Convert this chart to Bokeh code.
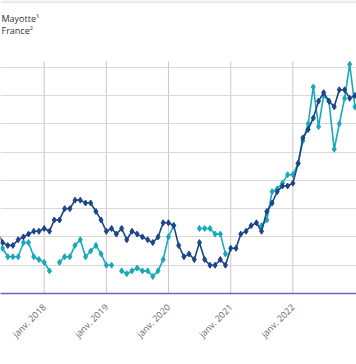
import math
from datetime import date
from bokeh.plotting import figure
from bokeh.models import Range1d, FixedTicker, Grid, Label, BoxAnnotation
from bokeh.embed import file_html
from bokeh.resources import INLINE

# ---- data (monthly year-on-year change, %) ----
france_start = (2017, 1)
france = [1.3, 1.2, 1.1, 1.2, 0.8, 0.7, 0.7, 0.9, 1.0, 1.1, 1.2, 1.2,
          1.3, 1.2, 1.6, 1.6, 2.0, 2.0, 2.3, 2.3, 2.2, 2.2, 1.9, 1.6,
          1.2, 1.3, 1.1, 1.3, 0.9, 1.2, 1.1, 1.0, 0.9, 0.8, 1.0, 1.5,
          1.5, 1.4, 0.7, 0.3, 0.4, 0.2, 0.8, 0.2, 0.0, 0.0, 0.2, 0.0,
          0.6, 0.6, 1.1, 1.2, 1.4, 1.5, 1.2, 1.9, 2.2, 2.6, 2.8, 2.8,
          2.9, 3.6, 4.5, 4.8, 5.2, 5.8, 6.1, 5.8, 5.6, 6.2, 6.2, 5.9,
          6.0]
mayotte_start = (2017, 5)
nan = float("nan")
mayotte = [0.6, 0.3, 0.3, 0.3, 0.8, 0.8, 0.3, 0.2,
           0.1, -0.2, nan, 0.1, 0.3, 0.3, 0.7, 0.9, 0.3, 0.5, 0.7, 0.4,
           0.0, 0.0, nan, -0.2, -0.3, -0.2, -0.1, -0.2, -0.2, -0.4, -0.2, 0.2,
           1.0, 1.4, nan, nan, nan, nan, 1.3, 1.3, 1.3, 1.1, 1.1, 0.4,
           nan, nan, nan, nan, nan, nan, 1.4, 1.6, 2.6, 2.7, 2.9, 3.2,
           3.2, 3.6, 4.4, 5.0, 6.3, 4.9, 6.0, 5.8, 4.1, 5.0, 5.9, 7.1,
           5.6]
tick_years = [2018, 2019, 2020, 2021, 2022]
tick_labels = ["janv. 2018", "janv. 2019", "janv. 2020", "janv. 2021", "janv. 2022"]
y_ticks = [0, 1, 2, 3, 4, 5, 6, 7]
legend_labels = ["Mayotte\u00b9", "France\u00b2"]

DAY = 86400000.0
def ms(y, m):
    return (date(y, m, 1) - date(1970, 1, 1)).days * DAY

def months(start, n):
    y, m = start
    out = []
    for _ in range(n):
        out.append(ms(y, m))
        m += 1
        if m > 12:
            m, y = 1, y + 1
    return out

fx = months(france_start, len(france))
mx = months(mayotte_start, len(mayotte))
x_ticks = [ms(y, 1) for y in tick_years]

# pixel -> data mapping of the visible window
ref0 = ms(2018, 1)
def px_to_ms(px):
    return ref0 + (px - 43.7) / 0.1702 * DAY

def px_to_val(py):
    return (264.8 - py) / 28.3

DARK = "#1b4586"
TEAL = "#17a9bb"
Y_MIN = -1
PLOT_TOP = px_to_val(61)

p = figure(width=356, height=364, output_backend="svg", toolbar_location=None,
           x_range=Range1d(px_to_ms(0), px_to_ms(356)),
           y_range=Range1d(Y_MIN, px_to_val(0)), y_axis_location=None,
           min_border_left=0, min_border_right=0, min_border_top=0,
           min_border_bottom=71)
p.outline_line_color = None
p.grid.visible = False
p.background_fill_color = "white"
p.border_fill_color = "white"

# thin light band at the very top of the container
p.add_layout(BoxAnnotation(bottom=px_to_val(2.7), fill_color="#ebebeb", fill_alpha=1,
                           line_color=None))

# horizontal grid
p.add_layout(Grid(dimension=1, ticker=FixedTicker(ticks=y_ticks),
                  grid_line_color="#d9d9d9", grid_line_width=1))
# vertical grid lines, limited to the plot area
p.segment(x0=x_ticks, x1=x_ticks, y0=[Y_MIN] * len(x_ticks), y1=[PLOT_TOP] * len(x_ticks),
          line_color="#c6c6c6", line_width=1, level="underlay")

ax = p.xaxis[0]
ax.ticker = FixedTicker(ticks=x_ticks)
ax.major_label_overrides = {int(t): lab for t, lab in zip(x_ticks, tick_labels)}
ax.major_label_orientation = math.pi / 4
ax.major_label_text_font = "Open Sans"
ax.major_label_text_font_size = "9px"
ax.major_label_text_color = "#666666"
ax.major_tick_line_color = None
ax.minor_tick_line_color = None
ax.axis_line_color = "#6b62c4"
ax.axis_line_width = 1.5
ax.major_label_standoff = 6

p.line(mx, mayotte, line_color=TEAL, line_width=1.6)
p.scatter(mx, mayotte, marker="diamond", size=6, fill_color=TEAL, line_color=TEAL)
p.line(fx, france, line_color=DARK, line_width=1.6)
p.scatter(fx, france, marker="diamond", size=6, fill_color=DARK, line_color=DARK)

p.add_layout(Label(x=px_to_ms(1), y=px_to_val(18.5), text=legend_labels[0],
                   text_align="left", text_baseline="middle", text_font="Open Sans",
                   text_font_size="9px", text_color="#333333"))
p.add_layout(Label(x=px_to_ms(1), y=px_to_val(30), text=legend_labels[1],
                   text_align="left", text_baseline="middle", text_font="Open Sans",
                   text_font_size="9px", text_color="#333333"))

open("out.html", "w").write(file_html(p, INLINE))
